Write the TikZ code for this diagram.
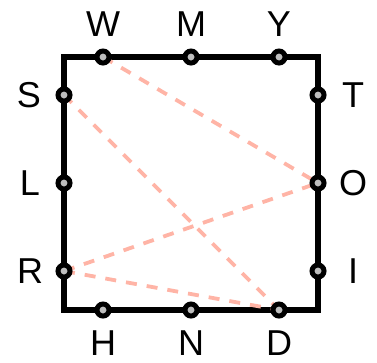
\documentclass[tikz,border=0pt]{standalone}
\usepackage{fontspec}
\setmainfont{Liberation Sans}
\usetikzlibrary{backgrounds}
\definecolor{dashcol}{HTML}{FFB4A6}
\definecolor{dotfill}{HTML}{BEBEBE}
\tikzset{
  pin/.style={circle, draw=black, line width=5pt, fill=dotfill, minimum size=12pt, inner sep=0pt},
  lbl/.style={font=\fontsize{36}{36}\selectfont, inner sep=0pt},
  frame/.style={line width=5.5pt, line join=miter},
  link/.style={dashcol, line width=3.8pt, dash pattern=on 11pt off 10pt}
}
\begin{document}
\begin{tikzpicture}[x=1pt,y=-1pt]
\useasboundingbox (0,0) rectangle (377,362);
% corners
\coordinate (c1) at (64,57);
\coordinate (c2) at (318,57);
\coordinate (c3) at (318,310);
\coordinate (c4) at (64,310);
% pins
\node[pin] (W) at (103,57) {};
\node[pin] (M) at (191,57) {};
\node[pin] (Y) at (279,57) {};
\node[pin] (S) at (64,95) {};
\node[pin] (L) at (64,183) {};
\node[pin] (R) at (64,271) {};
\node[pin] (T) at (318,95) {};
\node[pin] (O) at (318,183) {};
\node[pin] (I) at (318,271) {};
\node[pin] (H) at (103,310) {};
\node[pin] (N) at (191,310) {};
\node[pin] (D) at (279,310) {};
% labels
\node[lbl] (lW) at (103,24) {W};
\node[lbl] (lM) at (191,24) {M};
\node[lbl] (lY) at (279,24) {Y};
\node[lbl] (lS) at (29,95) {S};
\node[lbl] (lL) at (30,183) {L};
\node[lbl] (lR) at (30,271) {R};
\node[lbl] (lT) at (353,95) {T};
\node[lbl] (lO) at (353,183) {O};
\node[lbl] (lI) at (353,271) {I};
\node[lbl] (lH) at (103,343) {H};
\node[lbl] (lN) at (191,343) {N};
\node[lbl] (lD) at (279,343) {D};
\begin{scope}[on background layer]
\draw[frame] (c1) -- (c2) -- (c3) -- (c4) -- cycle;
\draw[link] (W.center) -- (O.center);
\draw[link] (S.center) -- (D.center);
\draw[link] (R.center) -- (O.center);
\draw[link] (R.center) -- (D.center);
\end{scope}
\end{tikzpicture}
\end{document}
